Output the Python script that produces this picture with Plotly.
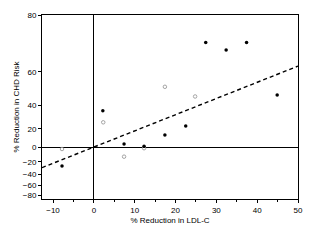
import numpy as np
import plotly.graph_objects as go

# Data: % reduction in LDL-C (x) vs % reduction in CHD risk (y)
filled_ldl = [-7.8, 2.2, 7.4, 12.3, 17.4, 22.5, 27.4, 32.4, 37.4, 44.9]
filled_chd = [-26.0, 35.8, 3.6, 1.0, 13.6, 22.6, 72.0, 69.4, 72.0, 47.0]
open_ldl = [-7.8, 2.3, 7.4, 12.3, 17.4, 24.8]
open_chd = [-2.5, 26.0, -12.5, -1.5, 52.0, 46.0]
fit_ldl = [-12.7, 50.0]
fit_chd = [-28.6, 62.7]
x_ticks = [-10, 0, 10, 20, 30, 40, 50]
y_ticks = [80, 60, 40, 20, 0, -20, -40, -60, -80]
y_range = [-88.5, 80]
x_range = [-12.7, 50]


def tr(r):
    """Scale: % risk reduction -> -ln(relative risk)."""
    return -np.log(1 - np.asarray(r, dtype=float) / 100.0)


fig = go.Figure()
fig.add_trace(go.Scatter(x=fit_ldl, y=tr(fit_chd), mode="lines",
                         line=dict(color="black", width=1.4, dash="4px,3px"),
                         showlegend=False, hoverinfo="skip"))
fig.add_trace(go.Scatter(x=open_ldl, y=tr(open_chd), mode="markers",
                         marker=dict(symbol="circle-open", size=3.5,
                                     color="#9a9a9a", line=dict(width=0.9)),
                         showlegend=False))
fig.add_trace(go.Scatter(x=filled_ldl, y=tr(filled_chd), mode="markers",
                         marker=dict(symbol="circle", size=3.5, color="black"),
                         showlegend=False))

font = dict(family="Liberation Sans, Arial, sans-serif", size=8, color="black")
fig.update_layout(
    width=320, height=240,
    margin=dict(l=42, r=22, t=15, b=41),
    paper_bgcolor="white", plot_bgcolor="white",
    font=font,
    xaxis=dict(range=x_range, tickvals=x_ticks, ticks="outside", ticklen=3,
               tickwidth=1, tickcolor="black",
               minor=dict(tickvals=[-5, 5, 15, 25, 35, 45], ticks="outside",
                          ticklen=2, tickcolor="black"),
               showline=True, linecolor="black", linewidth=1, mirror=True,
               showgrid=False, zeroline=True, zerolinecolor="black",
               zerolinewidth=1,
               title=dict(text="% Reduction in LDL-C", standoff=3,
                          font=dict(size=8))),
    yaxis=dict(range=list(tr(y_range)), tickvals=list(tr(y_ticks)),
               ticktext=[str(v).replace("-", "\u2212") for v in y_ticks],
               ticks="outside", ticklen=3, tickwidth=1, tickcolor="black",
               showline=True, linecolor="black", linewidth=1, mirror=True,
               showgrid=False, zeroline=True, zerolinecolor="black",
               zerolinewidth=1,
               title=dict(text="% Reduction in CHD Risk", standoff=2,
                          font=dict(size=8))),
)

fig.write_html("out.html")
